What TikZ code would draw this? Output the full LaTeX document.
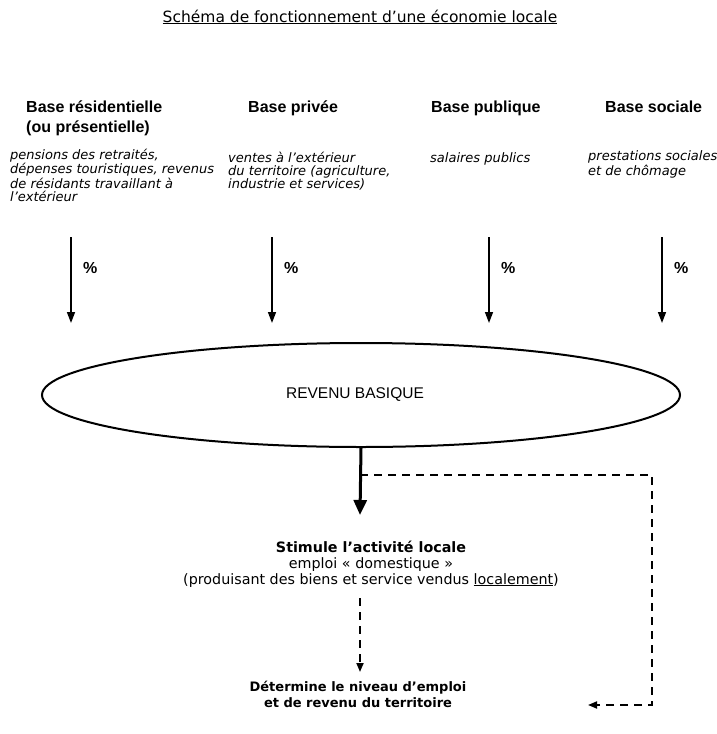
\documentclass[tikz,border=0pt]{standalone}
\usepackage{fontspec}
\setmainfont{DejaVu Sans}[ItalicFont={DejaVu Sans Oblique},BoldFont={DejaVu Sans Bold},BoldItalicFont={DejaVu Sans Bold Oblique}]
\newfontfamily\arialfont{Liberation Sans}
\newcommand\sq{\char"27\relax}
\usetikzlibrary{arrows.meta,shapes.geometric}
\begin{document}
\begin{tikzpicture}[x=1pt,y=-1pt,
  hdr/.style={font=\arialfont\bfseries\fontsize{16}{20}\selectfont, anchor=base west, align=left, inner sep=0pt},
  desc/.style={font=\itshape\fontsize{13}{13}\selectfont, anchor=base west, align=left, inner sep=0pt},
  pct/.style={font=\arialfont\bfseries\fontsize{16}{18}\selectfont, anchor=west, inner sep=0pt},
  basearrow/.style={line width=1.5pt, -{Triangle[width=8pt,length=11pt]}},
  mainarrow/.style={line width=3pt, -{Triangle[width=13pt,length=15pt]}},
  dasharrow/.style={line width=1.8pt, dash pattern=on 8pt off 6pt, -{Triangle[width=7pt,length=9pt]}},
  midtext/.style={font=\fontsize{14.3}{16}\selectfont, align=center, anchor=base, inner sep=0pt}
]
\useasboundingbox (0,0) rectangle (717,734);
% anchor=base on multi-line nodes = baseline of the last line
\node[font=\fontsize{15.5}{17}\selectfont, anchor=base, inner sep=0pt] (title) at (360,22)
  {\underline{Schéma de fonctionnement d\sq une économie locale}};

\node[hdr] (h1) at (26,132) {Base résidentielle\\(ou présentielle)};
\node[hdr] (h2) at (248,112) {Base privée};
\node[hdr] (h3) at (431,112) {Base publique};
\node[hdr] (h4) at (605,112) {Base sociale};

\node[desc] (d1) at (10,201) {pensions des retraités,\\dépenses touristiques, revenus\\de résidants travaillant à\\l\sq extérieur};
\node[desc] (d2) at (228,188) {ventes à l\sq extérieur\\du territoire (agriculture,\\industrie et services)};
\node[desc] (d3) at (430,162) {salaires publics};
\node[desc] (d4) at (588,175) {prestations sociales\\et de chômage};

\foreach \i/\x in {1/71,2/272,3/489,4/662}{
  \coordinate (a\i) at (\x,237);
  \coordinate (b\i) at (\x,323);
  \draw[basearrow] (a\i) -- (b\i);
  \node[pct] (p\i) at (\x+12,268) {\%};
}

\node[draw, ellipse, line width=2pt, minimum width=638pt, minimum height=104pt, inner sep=0pt] (rev) at (361,395) {};
\node[font=\arialfont\fontsize{15.5}{18}\selectfont, inner sep=0pt] (revt) at (355,395) {REVENU BASIQUE};

\coordinate (m1) at (360,515);
\draw[mainarrow] (rev.south) -- (m1);

\coordinate (r0) at (360,475);
\coordinate (r1) at (652,475);
\coordinate (r2) at (652,705);
\coordinate (r3) at (588,705);
\draw[dasharrow] (r0) -- (r1) -- (r2) -- (r3);

\node[midtext] (stim) at (371,584) {\textbf{Stimule l’activité locale}\\emploi « domestique »\\(produisant des biens et service vendus \underline{localement})};

\coordinate (s1) at (360,598);
\coordinate (s2) at (360,672);
\draw[dasharrow] (s1) -- (s2);

\node[midtext, font=\bfseries\fontsize{13}{16}\selectfont] (det) at (358,707) {Détermine le niveau d’emploi\\et de revenu du territoire};
\end{tikzpicture}
\end{document}
